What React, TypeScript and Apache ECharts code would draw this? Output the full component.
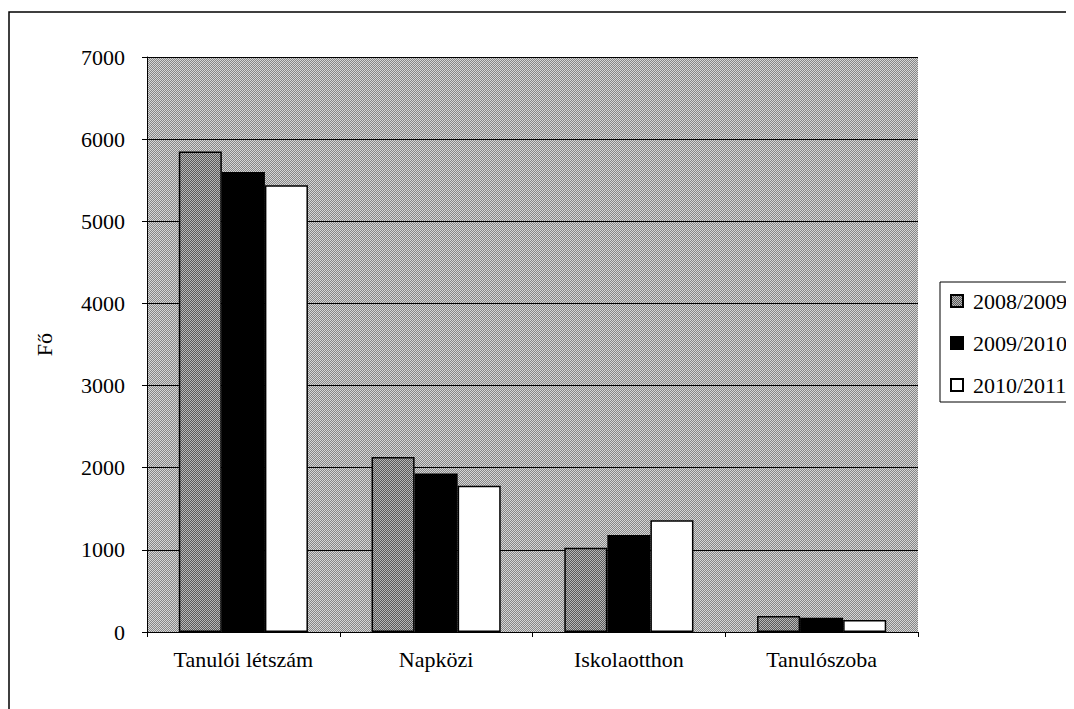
import React, { useEffect, useRef } from "react";
import * as echarts from "echarts";

const categories = ["Tanulói létszám", "Napközi", "Iskolaotthon", "Tanulószoba"];
const seriesNames = ["2008/2009", "2009/2010", "2010/2011"];
const values2008 = [5850, 2130, 1025, 195];
const values2009 = [5600, 1930, 1180, 175];
const values2010 = [5440, 1780, 1360, 145];
const yAxisName = "Fő";

const FONT = "Liberation Serif";

function makePattern(a: string, b: string) {
  const c = document.createElement("canvas");
  c.width = 2;
  c.height = 2;
  const ctx = c.getContext("2d")!;
  ctx.fillStyle = a;
  ctx.fillRect(0, 0, 2, 2);
  ctx.fillStyle = b;
  ctx.fillRect(1, 0, 1, 1);
  ctx.fillRect(0, 1, 1, 1);
  return { image: c, repeat: "repeat" };
}

export default function App() {
  const ref = useRef<HTMLDivElement>(null);
  useEffect(() => {
    if (!ref.current) return;
    const chart = echarts.init(ref.current, null, { renderer: "svg" });
    const barStyle = (color: any) => ({ color, borderColor: "#000", borderWidth: 1.5 });
    const bgPattern = makePattern("#d6d6d6", "#868686");
    const barPattern = makePattern("#b8b8b8", "#5a5a5a");
    chart.setOption({
      animation: false,
      backgroundColor: "#fff",
      textStyle: { fontFamily: FONT, color: "#000" },
      grid: {
        left: 139,
        top: 49,
        width: 771,
        height: 575,
        show: true,
        backgroundColor: bgPattern,
        borderWidth: 0,
      },
      legend: {
        orient: "vertical",
        left: 942,
        top: 282,
        padding: 0,
        itemWidth: 12,
        itemHeight: 12,
        itemGap: 20,
        icon: "rect",
        textStyle: { fontFamily: FONT, fontSize: 22, color: "#000", lineHeight: 22, padding: [0, 0, 0, 5] },
        data: seriesNames.map((n) => ({ name: n })),
      },
      xAxis: {
        type: "category",
        data: categories,
        axisLine: { lineStyle: { color: "#000", width: 1 } },
        axisTick: { show: true, length: 5, lineStyle: { color: "#000" } },
        axisLabel: { fontFamily: FONT, fontSize: 22, color: "#000", margin: 16 },
      },
      yAxis: {
        type: "value",
        min: 0,
        max: 7000,
        interval: 1000,
        name: yAxisName,
        nameLocation: "middle",
        nameGap: 92,
        nameRotate: 90,
        nameTextStyle: { fontFamily: FONT, fontSize: 22, color: "#000" },
        axisLine: { show: true, lineStyle: { color: "#000", width: 1 } },
        axisTick: { show: true, length: 5, lineStyle: { color: "#000" } },
        axisLabel: {
          fontFamily: FONT,
          fontSize: 22,
          color: "#000",
          margin: 22,
          formatter: (v: number) => String(v),
        },
        splitLine: { show: true, lineStyle: { color: "#000", width: 1 } },
      },
      graphic: [
        {
          type: "rect",
          shape: { x: 1, y: 4, width: 1200, height: 1000 },
          style: { fill: "none", stroke: "#000", lineWidth: 1.5 },
          silent: true,
        },
        {
          type: "rect",
          shape: { x: 932, y: 274, width: 300, height: 120 },
          style: { fill: "none", stroke: "#000", lineWidth: 1 },
          silent: true,
          z: -1,
        },
      ],
      series: [
        { name: seriesNames[0], type: "bar", data: values2008, itemStyle: barStyle(barPattern), barGap: "0%", barCategoryGap: "33%" },
        { name: seriesNames[1], type: "bar", data: values2009, itemStyle: barStyle("#000"), barGap: "0%", barCategoryGap: "33%" },
        { name: seriesNames[2], type: "bar", data: values2010, itemStyle: barStyle("#fff"), barGap: "0%", barCategoryGap: "33%" },
      ],
    });
    return () => chart.dispose();
  }, []);
  return <div ref={ref} style={{ width: 1066, height: 701 }} />;
}
